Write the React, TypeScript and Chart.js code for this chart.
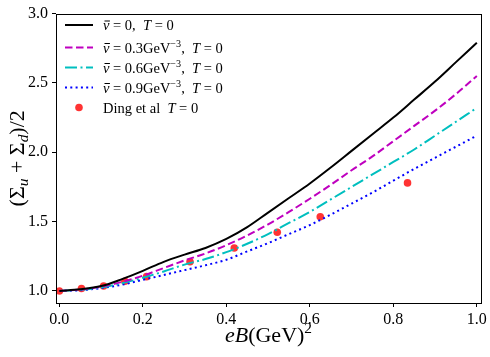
import React, { useEffect, useRef } from "react";
import { Chart, registerables } from "chart.js";

Chart.register(...registerables);

const X_GRID = [0, 0.05, 0.1, 0.15, 0.2, 0.25, 0.3, 0.35, 0.4, 0.45, 0.5, 0.55, 0.6, 0.65, 0.7, 0.75, 0.8, 0.85, 0.9, 0.95, 1.0];
const NU0 = [1.0, 1.012, 1.035, 1.085, 1.145, 1.21, 1.262, 1.31, 1.375, 1.46, 1.565, 1.67, 1.775, 1.89, 2.01, 2.13, 2.25, 2.38, 2.51, 2.65, 2.79];
const NU03 = [1.0, 1.01, 1.03, 1.065, 1.11, 1.165, 1.22, 1.27, 1.33, 1.4, 1.48, 1.57, 1.665, 1.765, 1.87, 1.97, 2.08, 2.19, 2.3, 2.42, 2.55];
const NU06 = [1.0, 1.008, 1.025, 1.055, 1.095, 1.14, 1.19, 1.23, 1.28, 1.34, 1.41, 1.49, 1.57, 1.66, 1.75, 1.84, 1.93, 2.02, 2.12, 2.22, 2.32];
const NU09 = [1.0, 1.005, 1.02, 1.045, 1.08, 1.115, 1.15, 1.185, 1.225, 1.285, 1.345, 1.41, 1.475, 1.55, 1.63, 1.71, 1.795, 1.88, 1.96, 2.04, 2.12];
const DING_X = [0, 0.053, 0.106, 0.157, 0.209, 0.313, 0.419, 0.522, 0.625, 0.834];
const DING_Y = [1.0, 1.018, 1.036, 1.07, 1.103, 1.21, 1.31, 1.423, 1.535, 1.779];
const X_TICKS = [0, 0.2, 0.4, 0.6, 0.8, 1.0];
const Y_TICKS = [1.0, 1.5, 2.0, 2.5, 3.0];

const FONT = '"Liberation Serif", "Times New Roman", serif';

type Seg = { t: string; it?: boolean; sc?: number; dy?: number; bar?: boolean };

function segFont(s: Seg, size: number) {
  return `${s.it ? "italic " : ""}${size * (s.sc || 1)}px ${FONT}`;
}
function measureRich(ctx: CanvasRenderingContext2D, segs: Seg[], size: number) {
  let w = 0;
  for (const s of segs) {
    ctx.font = segFont(s, size);
    w += ctx.measureText(s.t).width;
  }
  return w;
}
function drawRich(ctx: CanvasRenderingContext2D, segs: Seg[], x: number, y: number, size: number, align: "left" | "center") {
  let cx = align === "center" ? x - measureRich(ctx, segs, size) / 2 : x;
  ctx.textBaseline = "alphabetic";
  ctx.textAlign = "left";
  for (const s of segs) {
    ctx.font = segFont(s, size);
    const w = ctx.measureText(s.t).width;
    ctx.fillText(s.t, cx, y + (s.dy || 0));
    if (s.bar) {
      const by = y + (s.dy || 0) - size * 0.62;
      ctx.save();
      ctx.strokeStyle = ctx.fillStyle as string;
      ctx.lineWidth = 1;
      ctx.setLineDash([]);
      ctx.beginPath();
      ctx.moveTo(cx + 1.5, by);
      ctx.lineTo(cx + w + 0.5, by);
      ctx.stroke();
      ctx.restore();
    }
    cx += w;
  }
}

const NUBAR: Seg = { t: "\u03BD", it: true, bar: true };
const legendItems = [
  { color: "#000000", dash: [] as number[], segs: [NUBAR, { t: " = 0,  " }, { t: "T", it: true }, { t: " = 0" }] },
  { color: "#bf00bf", dash: [7.5, 3.5], segs: [NUBAR, { t: " = 0.3GeV" }, { t: "\u22123", sc: 0.7, dy: -6 }, { t: ",  " }, { t: "T", it: true }, { t: " = 0" }] },
  { color: "#00bfbf", dash: [12, 3.5, 2, 3.5], segs: [NUBAR, { t: " = 0.6GeV" }, { t: "\u22123", sc: 0.7, dy: -6 }, { t: ",  " }, { t: "T", it: true }, { t: " = 0" }] },
  { color: "#0000ff", dash: [2, 3.3], segs: [NUBAR, { t: " = 0.9GeV" }, { t: "\u22123", sc: 0.7, dy: -6 }, { t: ",  " }, { t: "T", it: true }, { t: " = 0" }] },
];

const decorPlugin = {
  id: "decor",
  afterDatasetsDraw(chart: any) {
    const ctx: CanvasRenderingContext2D = chart.ctx;
    const a = chart.chartArea;
    ctx.save();
    ctx.strokeStyle = "#000";
    ctx.lineWidth = 1;
    ctx.setLineDash([]);
    ctx.strokeRect(Math.round(a.left) + 0.5, Math.round(a.top) + 0.5, Math.round(a.right - a.left), Math.round(a.bottom - a.top));

    // legend
    const rows = [25, 47.5, 67.5, 87.5];
    ctx.fillStyle = "#000";
    legendItems.forEach((it, i) => {
      ctx.beginPath();
      ctx.strokeStyle = it.color;
      ctx.lineWidth = 2;
      ctx.setLineDash(it.dash);
      ctx.moveTo(65, rows[i]);
      ctx.lineTo(93, rows[i]);
      ctx.stroke();
      ctx.setLineDash([]);
      ctx.fillStyle = "#000";
      drawRich(ctx, it.segs, 103, rows[i] + 5, 14.5, "left");
    });
    ctx.beginPath();
    ctx.fillStyle = "rgba(255,0,0,0.8)";
    ctx.arc(79, 107.5, 3.8, 0, Math.PI * 2);
    ctx.fill();
    ctx.fillStyle = "#000";
    drawRich(ctx, [{ t: "Ding et al  " }, { t: "T", it: true }, { t: " = 0" }], 103, 112.5, 14.5, "left");

    // x title
    const cxm = (a.left + a.right) / 2;
    drawRich(ctx, [{ t: "eB", it: true }, { t: "(GeV)" }, { t: "2", sc: 0.7, dy: -9 }], cxm, 342, 22, "center");

    // y title
    ctx.save();
    ctx.translate(17, (a.top + a.bottom) / 2);
    ctx.rotate(-Math.PI / 2);
    drawRich(
      ctx,
      [{ t: "(\u03A3" }, { t: "u", it: true, sc: 0.7, dy: 4 }, { t: " + \u03A3" }, { t: "d", it: true, sc: 0.7, dy: 4 }, { t: ")/2" }],
      0,
      7,
      22,
      "center"
    );
    ctx.restore();
    ctx.restore();
  },
};

export default function App() {
  const ref = useRef<HTMLCanvasElement | null>(null);
  useEffect(() => {
    document.body.style.margin = "0";
    const canvas = ref.current!;
    const pts = (ys: number[]) => X_GRID.map((x, i) => ({ x, y: ys[i] }));
    const lineDs = (label: string, ys: number[], color: string, dash: number[]) => ({
      type: "line" as const,
      label,
      data: pts(ys),
      borderColor: color,
      backgroundColor: color,
      borderWidth: 2,
      borderDash: dash,
      borderCapStyle: "butt" as const,
      pointRadius: 0,
      fill: false,
      cubicInterpolationMode: "monotone" as const,
    });
    const chart = new Chart(canvas, {
      type: "line",
      data: {
        datasets: [
          lineDs("nu0", NU0, "#000000", []),
          lineDs("nu03", NU03, "#bf00bf", [7.5, 3.5]),
          lineDs("nu06", NU06, "#00bfbf", [12, 3.5, 2, 3.5]),
          lineDs("nu09", NU09, "#0000ff", [2, 3.3]),
          {
            type: "scatter" as any,
            label: "Ding",
            data: DING_X.map((x, i) => ({ x, y: DING_Y[i] })),
            showLine: false,
            pointRadius: 3.8,
            pointBorderWidth: 0,
            backgroundColor: "rgba(255,0,0,0.8)",
            borderColor: "rgba(255,0,0,0)",
          } as any,
        ],
      },
      options: {
        animation: false,
        responsive: false,
        devicePixelRatio: 1,
        layout: { padding: { top: 8, right: 9, left: 0, bottom: 0 } },
        plugins: { legend: { display: false }, tooltip: { enabled: false } },
        scales: {
          x: {
            type: "linear",
            min: -0.008,
            max: 1.01,
            afterBuildTicks: (s: any) => {
              s.ticks = X_TICKS.map((v) => ({ value: v }));
            },
            afterFit: (s: any) => {
              s.height = 54;
            },
            border: { display: false },
            grid: { drawOnChartArea: false, drawTicks: true, tickLength: 4, color: "#000", lineWidth: 1 },
            ticks: {
              color: "#000",
              padding: 3,
              maxRotation: 0,
              font: { family: FONT, size: 16 },
              callback: (v: any) => Number(v).toFixed(1),
            },
          },
          y: {
            type: "linear",
            min: 0.913,
            max: 3.0,
            afterBuildTicks: (s: any) => {
              s.ticks = Y_TICKS.map((v) => ({ value: v }));
            },
            afterFit: (s: any) => {
              s.width = 56;
            },
            border: { display: false },
            grid: { drawOnChartArea: false, drawTicks: true, tickLength: 4, color: "#000", lineWidth: 1 },
            ticks: {
              color: "#000",
              padding: 4,
              font: { family: FONT, size: 16 },
              callback: (v: any) => Number(v).toFixed(1),
            },
          },
        },
      },
      plugins: [decorPlugin],
    });
    return () => chart.destroy();
  }, []);
  return (
    <div style={{ width: 490, height: 357 }}>
      <canvas ref={ref} width={490} height={357} style={{ display: "block" }} />
    </div>
  );
}
